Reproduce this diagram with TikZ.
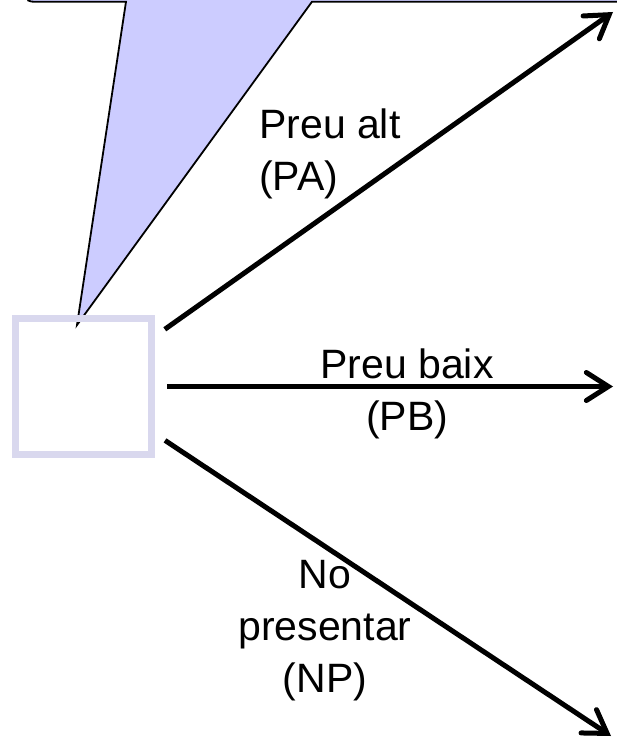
\documentclass[tikz,border=0pt]{standalone}
\usepackage{xcolor}
\usepackage{fontspec}
\setmainfont{Liberation Sans}
\usepackage{tikz}
\usetikzlibrary{arrows.meta}
\definecolor{calloutblue}{RGB}{204,204,255}
\definecolor{boxlavender}{RGB}{217,216,238}
\tikzstyle{note}=[fill=calloutblue, draw=black, line width=1.8pt, line join=miter]
\tikzstyle{choice}=[rectangle, draw=boxlavender, line width=7pt, minimum size=136pt, inner sep=0pt]
\tikzstyle{branch}=[draw=black, line width=5pt, shorten <=12pt,
        -{Straight Barb[length=22pt, width=28pt, line cap=round]}]
\tikzstyle{branchtext}=[inner sep=0pt, text=black, font={\fontsize{41}{52}\selectfont}]

\begin{document}
\begin{tikzpicture}[x=1pt, y=-1pt]
        \path[use as bounding box, clip] (0,0) rectangle (617,741);
        % callout coming down from above
        \filldraw[note] (27,-40) -- (27,-8) .. controls (27,1.7) .. (37,1.7) -- (126,1.7)
          -- (77,325) -- (312,1.7) -- (660,1.7) -- (660,-40) -- cycle;
        \node (decision) [choice] at (83.5,386.5) {};
        \coordinate (PAend) at (613,12);
        \coordinate (PBend) at (613,386.5);
        \coordinate (NPend) at (611,736);
        \draw[branch] (decision) -- (PAend);
        \draw[branch] (decision) -- (PBend);
        \draw[branch] (decision) -- (NPend);
        \node (PAtext) [branchtext, align=left, anchor=north west] at (259,108.5)
        {
          Preu alt\\(PA)
        };
        \node (PBtext) [branchtext, align=center, anchor=north] at (407,348.5)
        {
          Preu baix\\(PB)
        };
        \node (NPtext) [branchtext, align=center, anchor=north] at (325,560.5)
        {
          No\\presentar\\(NP)
        };
\end{tikzpicture}
\end{document}
